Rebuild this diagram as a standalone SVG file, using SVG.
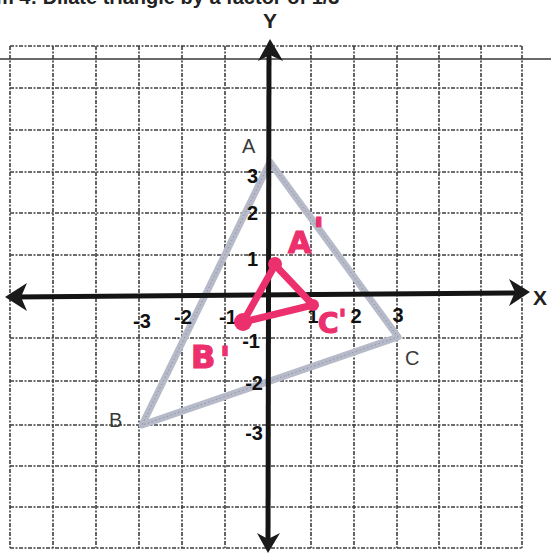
<svg xmlns="http://www.w3.org/2000/svg" width="551" height="554" viewBox="0 0 551 554">
<style>
.grid line{stroke:#3e3e3e;stroke-width:1.6;stroke-dasharray:4 1.5 2 1.5}
.axis{stroke:#141414;stroke-width:5;stroke-linecap:butt}
.head{fill:#1a1a1a}
.tick{font-family:"Liberation Sans",Arial,sans-serif;font-size:20px;font-weight:bold;fill:#111}
.vlab{font-family:"Liberation Sans",Arial,sans-serif;font-size:20px;fill:#3a3a3a}
.red{font-family:"DejaVu Sans","Liberation Sans",sans-serif;font-weight:bold;fill:#ec2f6d;stroke:#ec2f6d;stroke-width:1.2}
.tri{fill:none;stroke:#b7bac8;stroke-width:7;stroke-linejoin:round}
.tri2{fill:none;stroke:#8f93a4;stroke-width:1;stroke-dasharray:1.5 2.5}
</style>
<rect width="551" height="554" fill="#fff"/>
<text x="-4" y="4" font-family="Liberation Sans,Arial,sans-serif" font-size="20" font-weight="bold" fill="#222">m 4: Dilate triangle by a factor of 1/3</text>
<line x1="0" y1="59" x2="551" y2="59" stroke="#6a6a6a" stroke-width="2"/>
<g class="grid" id="grid">
<line x1="10" y1="46" x2="10" y2="548"/>
<line x1="53" y1="46" x2="53" y2="548"/>
<line x1="96" y1="46" x2="96" y2="548"/>
<line x1="139" y1="46" x2="139" y2="548"/>
<line x1="182" y1="46" x2="182" y2="548"/>
<line x1="225" y1="46" x2="225" y2="548"/>
<line x1="311" y1="46" x2="311" y2="548"/>
<line x1="354" y1="46" x2="354" y2="548"/>
<line x1="397" y1="46" x2="397" y2="548"/>
<line x1="439" y1="46" x2="439" y2="548"/>
<line x1="481" y1="46" x2="481" y2="548"/>
<line x1="522" y1="46" x2="522" y2="548"/>
<line x1="10" y1="46" x2="522" y2="46"/>
<line x1="10" y1="88" x2="522" y2="88"/>
<line x1="10" y1="130" x2="522" y2="130"/>
<line x1="10" y1="172" x2="522" y2="172"/>
<line x1="10" y1="213" x2="522" y2="213"/>
<line x1="10" y1="255" x2="522" y2="255"/>
<line x1="10" y1="338" x2="522" y2="338"/>
<line x1="10" y1="381" x2="522" y2="381"/>
<line x1="10" y1="425" x2="522" y2="425"/>
<line x1="10" y1="466" x2="522" y2="466"/>
<line x1="10" y1="507" x2="522" y2="507"/>
<line x1="10" y1="548" x2="522" y2="548"/>
</g>
<g id="triangle-ABC">
<polygon class="tri" points="270,162 398,337 142,425"/>
<polygon class="tri2" points="270,162 398,337 142,425"/>
<text class="vlab" x="242" y="153">A</text>
<text class="vlab" x="109" y="427">B</text>
<text class="vlab" x="405" y="365">C</text>
</g>
<g id="axes">
<line class="axis" x1="15" y1="297" x2="515" y2="293"/>
<line class="axis" x1="269" y1="50" x2="268" y2="545"/>
<polygon class="head" points="5,297 27,283 21,297 27,311"/>
<polygon class="head" points="530,292 509,279 515,292 509,306"/>
<polygon class="head" points="270,39 258,61 270,55 283,61"/>
<polygon class="head" points="268,553 257,533 268,539 280,533"/>
<text x="270" y="28" text-anchor="middle" font-family="Liberation Sans,Arial,sans-serif" font-size="21" font-weight="bold" fill="#222">Y</text>
<text x="533" y="305" font-family="Liberation Sans,Arial,sans-serif" font-size="21" font-weight="bold" fill="#222">X</text>
</g>
<g id="ticks">
<text class="tick" x="258" y="183" text-anchor="end">3</text>
<text class="tick" x="258" y="220" text-anchor="end">2</text>
<text class="tick" x="258" y="266" text-anchor="end">1</text>
<text class="tick" x="260" y="348" text-anchor="end">-1</text>
<text class="tick" x="263" y="390" text-anchor="end">-2</text>
<text class="tick" x="263" y="440" text-anchor="end">-3</text>
<text class="tick" x="142" y="328" text-anchor="middle">-3</text>
<text class="tick" x="183" y="324" text-anchor="middle">-2</text>
<text class="tick" x="228" y="324" text-anchor="middle">-1</text>
<text class="tick" x="313" y="323" text-anchor="middle">1</text>
<text class="tick" x="356" y="323" text-anchor="middle">2</text>
<text class="tick" x="398" y="322" text-anchor="middle">3</text>
</g>
<g id="triangle-A1B1C1">
<polygon points="275,265 243,322 313,305" fill="none" stroke="#ec2f6d" stroke-width="7" stroke-linejoin="round"/>
<circle cx="275" cy="264" r="7" fill="#ec2f6d"/>
<circle cx="243" cy="322" r="9" fill="#ec2f6d"/>
<circle cx="313" cy="305" r="6" fill="#ec2f6d"/>
<text class="red" x="288" y="253" font-size="30">A<tspan dx="2" dy="-10" font-size="36">'</tspan></text>
<text class="red" x="191" y="368" font-size="32">B<tspan dx="4" dy="4" font-size="36">'</tspan></text>
<text class="red" x="318" y="333" font-size="28">C<tspan dx="0" dy="-4" font-size="26">'</tspan></text>
</g>
</svg>
